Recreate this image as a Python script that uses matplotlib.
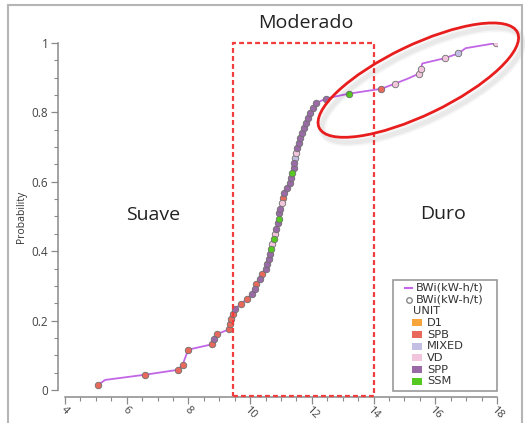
import matplotlib
matplotlib.use("Agg")
import matplotlib.pyplot as plt
from matplotlib.lines import Line2D
from matplotlib.patches import Rectangle, Ellipse
from matplotlib.transforms import IdentityTransform
import numpy as np

plt.rcParams['font.family'] = ['Open Sans', 'DejaVu Sans']

# data (BWi in kW-h/t vs cumulative probability)
bwi = [5.06, 5.30, 6.59, 7.65, 7.82, 7.87, 7.93, 7.98, 8.78, 8.84,
       8.92, 9.33, 9.36, 9.39, 9.43, 9.50, 9.70, 9.90, 10.05, 10.16,
       10.19, 10.33, 10.37, 10.52, 10.56, 10.61, 10.64, 10.67, 10.72, 10.78,
       10.81, 10.84, 10.89, 10.93, 10.95, 10.97, 11.03, 11.08, 11.10, 11.21,
       11.28, 11.32, 11.37, 11.41, 11.43, 11.46, 11.48, 11.51, 11.57, 11.60,
       11.68, 11.75, 11.82, 11.89, 11.95, 12.05, 12.14, 12.45, 13.20, 14.25,
       14.70, 15.10, 15.48, 15.53, 15.58, 16.30, 16.75, 16.98, 17.98]
prob = [0.014, 0.029, 0.044, 0.058, 0.073, 0.087, 0.101, 0.116, 0.132, 0.146,
        0.161, 0.175, 0.190, 0.204, 0.219, 0.233, 0.248, 0.262, 0.277, 0.291,
        0.306, 0.320, 0.335, 0.349, 0.364, 0.378, 0.393, 0.407, 0.422, 0.436,
        0.451, 0.465, 0.480, 0.494, 0.509, 0.523, 0.538, 0.552, 0.567, 0.581,
        0.596, 0.610, 0.625, 0.639, 0.654, 0.668, 0.683, 0.697, 0.712, 0.726,
        0.741, 0.755, 0.770, 0.784, 0.798, 0.812, 0.826, 0.840, 0.854, 0.868,
        0.883, 0.897, 0.912, 0.926, 0.941, 0.956, 0.970, 0.985, 1.000]
unit = ['SPB', '', 'SPB', 'SPB', 'SPB', '', '', 'SPB', 'SPB', 'SPP',
        'SPB', 'SPB', 'SPB', 'SPB', 'SPB', 'SPP', 'SPB', 'SPB', 'SPP', 'SPP',
        'SPB', 'SPP', 'SPB', 'SPP', 'SPP', 'SPP', 'SPP', 'SSM', 'VD', 'SSM',
        'VD', 'SPP', 'SPP', 'SSM', 'SPP', 'SPP', 'VD', 'SPB', 'SPP', 'SPP',
        'SPP', 'SPP', 'SSM', 'SPP', 'SPP', 'MIXED', 'VD', 'SPP', 'SPP', 'SPP',
        'SPP', 'SPP', 'SPP', 'SPP', 'SPP', 'SPP', 'SPP', 'SPP', 'SSM', 'SPB',
        'VD', '', 'VD', 'VD', '', 'VD', 'MIXED', '', 'VD']

unit_names = ['D1', 'SPB', 'MIXED', 'VD', 'SPP', 'SSM']
unit_colors = ['#f7a43a', '#e8695c', '#c3bfe4', '#f1c6dc', '#9a6aa6', '#55c822']

xticks = [4, 6, 8, 10, 12, 14, 16, 18]
yticks = [0, 0.2, 0.4, 0.6, 0.8, 1.0]
ytick_labels = ['0', '0.2', '0.4', '0.6', '0.8', '1']

line_color = '#c266e6'

fig = plt.figure(figsize=(5.25, 4.23), dpi=100)
ax = fig.add_axes([65 / 525, 33 / 423, 432 / 525, 347 / 423])

ax.plot(bwi, prob, color=line_color, lw=1.3, zorder=2)
bwi_a = np.array(bwi)
prob_a = np.array(prob)
unit_a = np.array(unit)
for name, col in zip(unit_names, unit_colors):
    m = unit_a == name
    if m.any():
        ax.scatter(bwi_a[m], prob_a[m], s=22, color=col, edgecolor='#6e6e6e',
                   linewidths=0.6, zorder=3)

ax.set_xlim(4, 18)
ax.set_ylim(0, 1)
ax.set_xticks(xticks)
ax.set_xticklabels([str(t) for t in xticks])
ax.set_xticks(np.arange(4, 18.01, 0.5), minor=True)
ax.set_yticks(yticks)
ax.set_yticklabels(ytick_labels)
ax.set_yticks(np.arange(0, 1.001, 0.05), minor=True)

for s in ['top', 'right']:
    ax.spines[s].set_visible(False)
for s in ['left', 'bottom']:
    ax.spines[s].set_position(('outward', 5))
    ax.spines[s].set_color('#8a8a8a')
    ax.spines[s].set_linewidth(1.1)
ax.spines['left'].set_bounds(0, 1)
ax.spines['bottom'].set_bounds(4, 18)
ax.tick_params(which='major', length=5, width=0.9, color='#8a8a8a',
               labelsize=8.5, labelcolor='#444444', pad=2)
ax.tick_params(which='minor', length=3, width=0.8, color='#8a8a8a')
ax.tick_params(axis='x', which='major', labelrotation=-45, pad=0.5, labelsize=8)
plt.setp(ax.get_xticklabels(), ha='center', va='top')

ax.set_ylabel('Probability', fontsize=7.5, color='#333333')
ax.yaxis.set_label_coords(-0.088, 0.5)

# zone labels
ax.text(11.81, 1.058, 'Moderado', fontsize=14, color='#222222',
        ha='center', va='center', clip_on=False)
ax.text(6.85, 0.504, 'Suave', fontsize=14, color='#222222',
        ha='center', va='center')
ax.text(16.25, 0.507, 'Duro', fontsize=14, color='#222222',
        ha='center', va='center')

# dashed box for moderate zone
ax.add_patch(Rectangle((9.45, -0.017), 14.0 - 9.45, 1.018, fill=False,
                       edgecolor='#f03c3c', lw=1.6, ls=(0, (2.2, 1.4)),
                       clip_on=False, zorder=4))

# red ellipse around hard zone (with soft shadow)
cx, cy = ax.transData.transform((15.45, 0.893))
for off, lw, a in [(4, 6, 0.035), (4, 3.5, 0.05)]:
    fig.add_artist(Ellipse((cx + off, cy - off - 1), 220, 70, angle=25.7, fill=False,
                           edgecolor='#000000', alpha=a, lw=lw,
                           transform=IdentityTransform()))
fig.add_artist(Ellipse((cx, cy), 220, 70, angle=25.7, fill=False,
                       edgecolor='#e81e1e', lw=2, transform=IdentityTransform()))


# legend laid out by hand (pixel offsets inside the legend box)
def ax_x(px):
    return (px - 65) / 432


def ax_y(py):
    return (390 - py) / 347


leg_font = {'family': 'DejaVu Sans', 'size': 8.2, 'color': '#333333'}
tr = ax.transAxes
ax.add_patch(Rectangle((ax_x(393), ax_y(391)), ax_x(497) - ax_x(393),
                       ax_y(280) - ax_y(391), transform=tr, facecolor='white',
                       edgecolor='#9a9a9a', lw=1.2, clip_on=False, zorder=5))
row_y = [288 + 11.65 * i for i in range(9)]
ax.add_line(Line2D([ax_x(405), ax_x(412)], [ax_y(row_y[0])] * 2, color=line_color,
                   lw=1.5, transform=tr, zorder=6))
ax.text(ax_x(416), ax_y(row_y[0]), 'BWi(kW-h/t)', transform=tr, va='center',
        zorder=6, **leg_font)
ax.add_line(Line2D([ax_x(408.5)], [ax_y(row_y[1])], ls='none', marker='o',
                   markersize=4, markerfacecolor='white', markeredgecolor='#888888',
                   transform=tr, zorder=6))
ax.text(ax_x(416), ax_y(row_y[1]), 'BWi(kW-h/t)', transform=tr, va='center',
        zorder=6, **leg_font)
ax.text(ax_x(413), ax_y(row_y[2]), 'UNIT', transform=tr, va='center',
        zorder=6, **leg_font)
for k, (name, col) in enumerate(zip(unit_names, unit_colors)):
    yc = row_y[3 + k]
    ax.add_patch(Rectangle((ax_x(412), ax_y(yc + 3.5)), ax_x(422) - ax_x(412),
                           ax_y(yc - 3.5) - ax_y(yc + 3.5), transform=tr,
                           facecolor=col, edgecolor='none', zorder=6))
    ax.text(ax_x(427), ax_y(yc), name, transform=tr, va='center',
            zorder=6, **leg_font)

# outer gray frame of the screenshot
fig.add_artist(Rectangle((8 / 525, -0.1), 514 / 525, 1.1 - 5 / 423, fill=False,
                         edgecolor='#b5b5b5', lw=1.5, transform=fig.transFigure))

fig.savefig('out.png', dpi=100)
